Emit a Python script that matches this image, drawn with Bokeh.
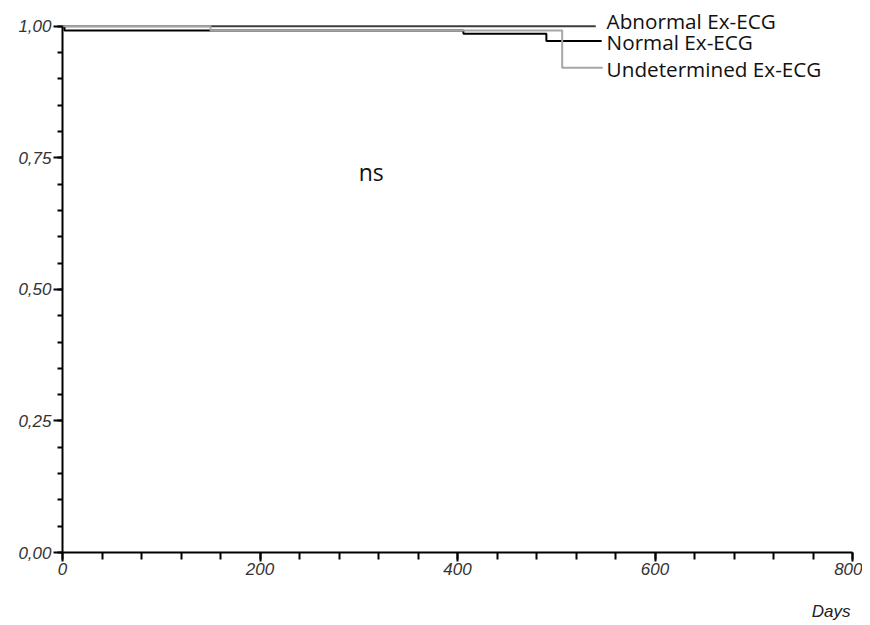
from bokeh.plotting import figure
from bokeh.models import (Range1d, ColumnDataSource, Title, LinearAxis, FixedTicker,
                          SingleIntervalTicker, CustomJSTickFormatter)
from bokeh.core.properties import value
from bokeh.embed import file_html
from bokeh.resources import INLINE

# Kaplan-Meier curves (days, survival)
abnormal_days = [0, 540]
abnormal_surv = [1.000, 1.000]
normal_days = [0, 2, 406, 490, 546]
normal_surv = [1.000, 0.992, 0.986, 0.972, 0.972]
undet_days = [0, 150, 506, 547]
undet_surv = [1.000, 0.992, 0.921, 0.921]

group_names = ["Abnormal Ex-ECG", "Normal Ex-ECG", "Undetermined Ex-ECG"]
annotation = "ns"
x_title = "Days"

p = figure(width=862, height=625, output_backend="svg", toolbar_location=None,
           x_range=Range1d(0, 800), y_range=Range1d(0, 1.03),
           min_border_left=62, min_border_right=10, min_border_top=10, min_border_bottom=73)
p.outline_line_color = None
p.xgrid.visible = False
p.ygrid.visible = False
p.background_fill_color = "white"
p.border_fill_color = "white"

colors = ["#3c3c3c", "#000000", "#a6a6a6"]
series = [(abnormal_days, abnormal_surv), (normal_days, normal_surv), (undet_days, undet_surv)]
for (d, s), c in zip(series, colors):
    p.step(d, s, mode="after", line_color=c, line_width=2)

# labels at the end of each curve
label_x = 551
ends = [s[-1] for _, s in series]
src = ColumnDataSource(dict(x=[label_x] * 3, y=ends, text=group_names, yo=[-5, 1, 1]))
p.text(x="x", y="y", text="text", source=src, y_offset="yo", text_baseline="middle",
       text_align="left", text_font=value("Open Sans"), text_font_size="20.7px",
       text_color="#111111")

p.text(x=[300], y=[0.724], text=[annotation], text_baseline="middle", text_align="left",
       text_font=value("Open Sans"), text_font_size="23px", text_color="#111111")

fmt = CustomJSTickFormatter(code="return tick.toFixed(2).replace('.', ',');")
for ax in (p.xaxis[0], p.yaxis[0]):
    ax.axis_line_width = 2
    ax.axis_line_color = "black"
    ax.major_tick_line_width = 2
    ax.minor_tick_line_width = 2
    ax.major_tick_in = 0
    ax.minor_tick_in = 0
    ax.major_label_text_font = "Liberation Sans"
    ax.major_label_text_font_style = "italic"
    ax.major_label_text_font_size = "17px"
    ax.major_label_text_color = "#333333"

p.yaxis.ticker = SingleIntervalTicker(interval=0.25, num_minor_ticks=5)
p.yaxis.formatter = fmt
p.yaxis.bounds = (0, 1)
p.yaxis.major_tick_out = 9
p.yaxis.minor_tick_out = 5
p.yaxis.major_label_standoff = 2

p.xaxis.ticker = SingleIntervalTicker(interval=200, num_minor_ticks=5)
p.xaxis.bounds = (0, 800)
p.xaxis.major_tick_out = 9
p.xaxis.minor_tick_out = 7
p.xaxis.major_label_standoff = 1

# invisible, tick-less spacer axis to push the title down
spacer = LinearAxis(ticker=FixedTicker(ticks=[]), axis_line_color=None,
                    major_tick_line_color=None, minor_tick_line_color=None,
                    major_tick_out=0, minor_tick_out=0, major_tick_in=0, minor_tick_in=0,
                    major_label_standoff=0, axis_label="\u00a0",
                    axis_label_standoff=15, axis_label_text_font_size="1px")
p.add_layout(spacer, "below")

p.add_layout(Title(text=x_title, align="right", vertical_align="bottom", standoff=6, offset=2,
                   text_font="Liberation Sans", text_font_style="italic",
                   text_font_size="17px", text_color="#222222"), "below")

open("out.html", "w").write(file_html(p, INLINE))
